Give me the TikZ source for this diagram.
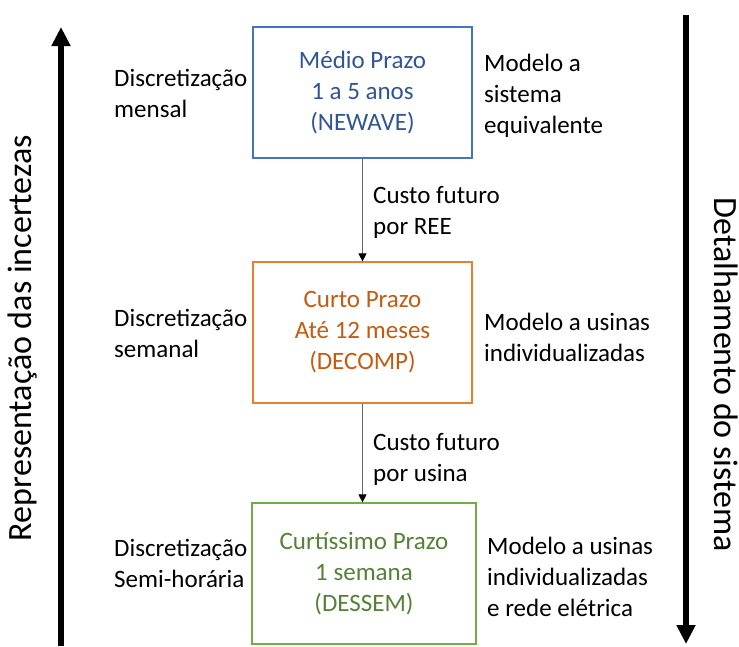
\documentclass[tikz,border=0pt]{standalone}
\usepackage{fontspec}
\setmainfont{Carlito}
\usetikzlibrary{arrows.meta}

\definecolor{azulTxt}{HTML}{2F5597}
\definecolor{azulBorda}{HTML}{4472C4}
\definecolor{laranjaTxt}{HTML}{C55A11}
\definecolor{laranjaBorda}{HTML}{ED7D31}
\definecolor{verdeTxt}{HTML}{548235}
\definecolor{verdeBorda}{HTML}{70AD47}

\tikzset{
  bloco/.style={draw, line width=1.2pt, inner sep=0pt, align=center,
    minimum width=219pt, minimum height=141pt},
  rotulo/.style={align=left, anchor=west, inner sep=0pt},
  liga/.style={draw=gray!80!black, line width=1pt,
    -{Triangle[width=8pt,length=8pt,color=black]}},
  seta/.style={line width=6pt, -{Triangle[width=18pt,length=19pt]}},
  eixo/.style={inner sep=0pt, font=\fontsize{34}{40}\selectfont}
}

\begin{document}
\begin{tikzpicture}[x=1pt, y=-1pt, font=\fontsize{25}{31}\selectfont]
  \useasboundingbox (0,0) rectangle (739,646);
  % os tres modelos
  \node[bloco, draw=azulBorda, text=azulTxt, minimum height=131pt]
    (medio) at (362.5,92.5) {Médio Prazo\\1 a 5 anos\\(NEWAVE)};
  \node[bloco, draw=laranjaBorda, text=laranjaTxt]
    (curto) at (362.5,332.5) {Curto Prazo\\Até 12 meses\\(DECOMP)};
  \node[bloco, draw=verdeBorda, text=verdeTxt, minimum width=224pt]
    (curtissimo) at (364,573.5) {Curtíssimo Prazo\\1 semana\\(DESSEM)};
  \draw[liga] (medio) -- (curto);
  \draw[liga] (curto.south) -- (curto.south |- curtissimo.north);
  % textos laterais
  \node[rotulo] (discMedio) at (114,93) {Discretização\\mensal};
  \node[rotulo] (discCurto) at (114,333) {Discretização\\semanal};
  \node[rotulo] (discCurtissimo) at (114,563) {Discretização\\Semi-horária};
  \node[rotulo] (modMedio) at (484,96) {Modelo a\\sistema\\equivalente};
  \node[rotulo] (modCurto) at (484,337) {Modelo a usinas\\individualizadas};
  \node[rotulo] (modCurtissimo) at (487,577) {Modelo a usinas\\individualizadas\\e rede elétrica};
  \node[rotulo] (custoREE) at (373,212) {Custo futuro\\por REE};
  \node[rotulo] (custoUsina) at (373,459) {Custo futuro\\por usina};
  % eixos
  \coordinate (incBase) at (61,646);
  \coordinate (incTopo) at (61,27);
  \coordinate (detTopo) at (686,15);
  \coordinate (detBase) at (686,644);
  \draw[seta] (incBase) -- (incTopo);
  \draw[seta] (detTopo) -- (detBase);
  \node[eixo, rotate=90] (incertezas) at (23,338) {Representação das incertezas};
  \node[eixo, rotate=-90] (detalhe) at (726,375) {Detalhamento do sistema};
\end{tikzpicture}
\end{document}
